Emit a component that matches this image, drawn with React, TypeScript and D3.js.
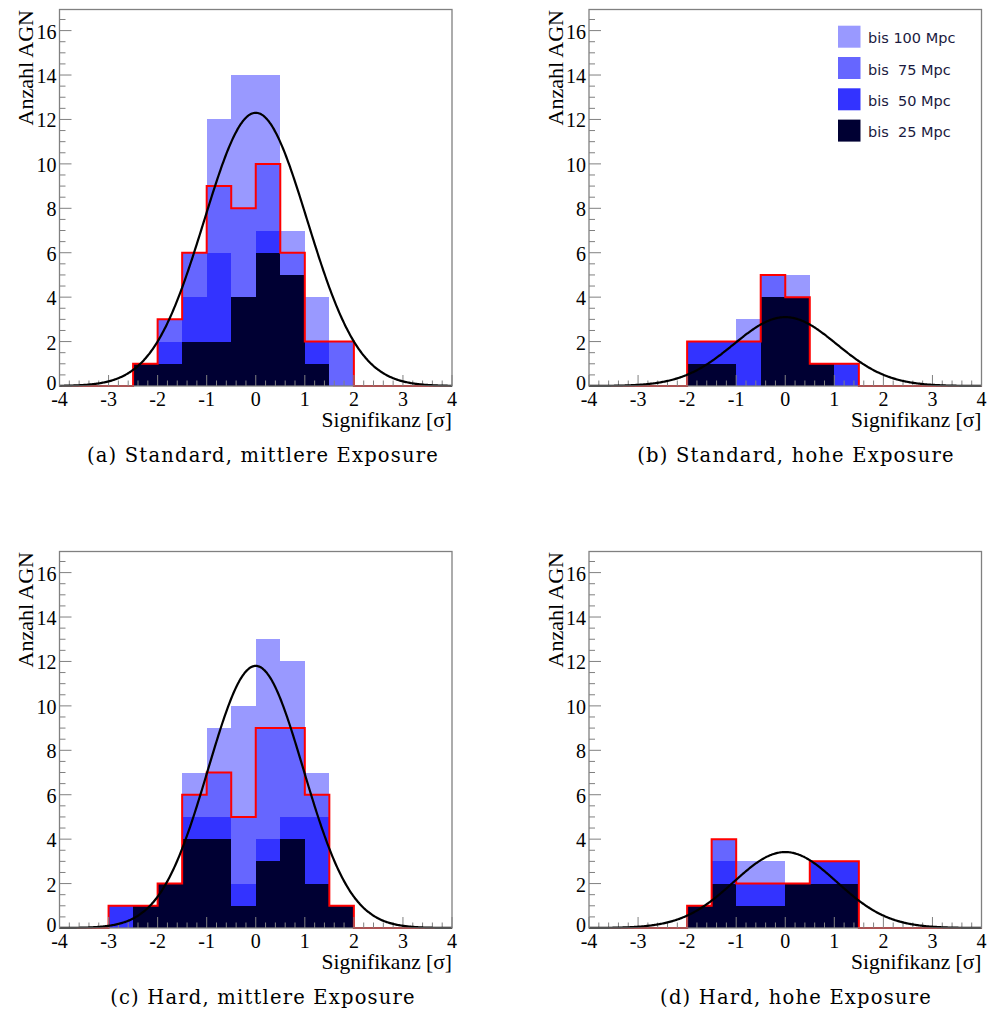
import React from "react";
import * as d3 from "d3";

// ---------- data ----------
const binWidth = 0.5;
const xDomain = [-4, 4];
const yMax = 16.95;
const xTickValues = [-4, -3, -2, -1, 0, 1, 2, 3, 4];
const yTickValues = [0, 2, 4, 6, 8, 10, 12, 14, 16];

// panel (a) Standard, mittlere Exposure — bins start at -2.5
const aStart = -2.5;
const a100 = [1, 3, 6, 12, 14, 14, 7, 4, 2];
const a75 = [1, 3, 6, 9, 8, 10, 6, 2, 2];
const a50 = [1, 2, 4, 6, 4, 7, 5, 2, 0];
const a25 = [1, 1, 2, 2, 4, 6, 5, 1, 0];

// panel (b) Standard, hohe Exposure — bins start at -2
const bStart = -2;
const b100 = [2, 2, 3, 5, 5, 1, 1];
const b75 = [2, 2, 2, 5, 4, 1, 1];
const b50 = [2, 2, 2, 4, 4, 1, 1];
const b25 = [1, 1, 0, 4, 4, 1, 0];

// panel (c) Hard, mittlere Exposure — bins start at -3
const cStart = -3;
const c100 = [1, 1, 2, 7, 9, 10, 13, 12, 7, 1];
const c75 = [1, 1, 2, 6, 7, 5, 9, 9, 6, 1];
const c50 = [1, 1, 2, 5, 5, 2, 4, 5, 5, 1];
const c25 = [0, 1, 2, 4, 4, 1, 3, 4, 2, 1];

// panel (d) Hard, hohe Exposure — bins start at -2
const dStart = -2;
const d100 = [1, 4, 3, 3, 2, 3, 3];
const d75 = [1, 4, 2, 2, 2, 3, 3];
const d50 = [1, 3, 2, 2, 2, 3, 3];
const d25 = [1, 2, 1, 1, 2, 2, 2];

// gaussian fits (amplitude, mean, sigma)
const gaussAmp = [12.3, 3.1, 11.8, 3.42];
const gaussMean = [0, 0, 0, 0];
const gaussSigma = [1.05, 1.05, 0.97, 1.05];

const captions = [
  "(a) Standard, mittlere Exposure",
  "(b) Standard, hohe Exposure",
  "(c) Hard, mittlere Exposure",
  "(d) Hard, hohe Exposure",
];
const legendLabels = ["bis 100 Mpc", "bis  75 Mpc", "bis  50 Mpc", "bis  25 Mpc"];
const xTitle = "Signifikanz [σ]";
const yTitle = "Anzahl AGN";

// ---------- styles / layout ----------
const fillColors = ["#9999ff", "#6666ff", "#3333ff", "#000033"];
const frameColor = "#808080";
const serif = "'Liberation Serif', 'Times New Roman', serif";
const capFont = "'DejaVu Serif', serif";
const W = 392.5;
const H = 376.5;
const panelLeft = [59.5, 589, 59.5, 589];
const panelTop = [9.5, 9.5, 551.5, 551.5];
const captionX = [263, 796, 263, 796];
const captionY = [462, 462, 1004, 1004];

const panels = [
  { start: aStart, series: [a100, a75, a50, a25] },
  { start: bStart, series: [b100, b75, b50, b25] },
  { start: cStart, series: [c100, c75, c50, c25] },
  { start: dStart, series: [d100, d75, d50, d25] },
];

function Panel({ idx }: { idx: number }) {
  const p = panels[idx];
  const x = d3.scaleLinear().domain(xDomain).range([0, W]);
  const y = d3.scaleLinear().domain([0, yMax]).range([H, 0]);
  const bw = x(binWidth) - x(0);

  // red outline of the 75 Mpc histogram over the full range
  const s75 = p.series[1];
  const pts: [number, number][] = [[xDomain[0], 0], [p.start, 0]];
  s75.forEach((c, i) => {
    const x0 = p.start + i * binWidth;
    pts.push([x0, c], [x0 + binWidth, c]);
  });
  pts.push([p.start + s75.length * binWidth, 0], [xDomain[1], 0]);
  const stepLine = d3
    .line<[number, number]>()
    .x((d) => x(d[0]))
    .y((d) => y(d[1]));

  const gx = d3.range(xDomain[0], xDomain[1] + 0.0001, 0.02);
  const gLine = d3
    .line<number>()
    .x((d) => x(d))
    .y((d) =>
      y(gaussAmp[idx] * Math.exp(-((d - gaussMean[idx]) ** 2) / (2 * gaussSigma[idx] ** 2)))
    )
    .curve(d3.curveBasis);

  const xMinor = d3.range(-4, 4.0001, 0.2);
  const yMinor = d3.range(0, yMax, 0.5);

  return (
    <g transform={`translate(${panelLeft[idx]},${panelTop[idx]})`}>
      {p.series.map((ser, si) =>
        ser.map((c, i) =>
          c > 0 ? (
            <rect
              key={`${si}-${i}`}
              x={x(p.start + i * binWidth)}
              y={y(c)}
              width={bw}
              height={y(0) - y(c)}
              fill={fillColors[si]}
              shapeRendering="crispEdges"
            />
          ) : null
        )
      )}
      <path d={stepLine(pts) || ""} fill="none" stroke="#ff0000" strokeWidth={2} />
      {/* ticks */}
      {xMinor.map((v, i) => {
        const major = Math.abs(v - Math.round(v)) < 1e-6;
        return (
          <line
            key={`xt${i}`}
            x1={x(v)}
            x2={x(v)}
            y1={H}
            y2={H - (major ? 11 : 5.5)}
            stroke={frameColor}
            strokeWidth={1}
          />
        );
      })}
      {yMinor.map((v, i) => {
        const major = Math.abs(v / 2 - Math.round(v / 2)) < 1e-6;
        return (
          <line
            key={`yt${i}`}
            x1={0}
            x2={major ? 12 : 6}
            y1={y(v)}
            y2={y(v)}
            stroke={frameColor}
            strokeWidth={1}
          />
        );
      })}
      <path d={gLine(gx) || ""} fill="none" stroke="#000000" strokeWidth={2.2} />
      <rect x={0} y={0} width={W} height={H} fill="none" stroke={frameColor} strokeWidth={1.3} />
      {/* tick labels */}
      {xTickValues.map((v) => (
        <text
          key={`xl${v}`}
          x={x(v)}
          y={H + 20}
          textAnchor="middle"
          fontFamily={serif}
          fontSize={20}
          fill="#000"
        >
          {v}
        </text>
      ))}
      {yTickValues.map((v) => (
        <text
          key={`yl${v}`}
          x={-3}
          y={y(v) + (v === 0 ? 3.5 : 8)}
          textAnchor="end"
          fontFamily={serif}
          fontSize={20}
          fill="#000"
        >
          {v}
        </text>
      ))}
      <text
        x={W}
        y={H + 41}
        textAnchor="end"
        fontFamily={serif}
        fontSize={21.5}
        fill="#000"
      >
        {xTitle}
      </text>
      <text
        transform={`translate(${-26.5},0.5) rotate(-90)`}
        textAnchor="end"
        fontFamily={serif}
        fontSize={22}
        fill="#000"
      >
        {yTitle}
      </text>
    </g>
  );
}

function Legend() {
  const left = panelLeft[1] + 249;
  const top = 25.7;
  const step = 31.3;
  return (
    <g>
      {legendLabels.map((lab, i) => (
        <g key={lab}>
          <rect x={left} y={top + i * step} width={22.5} height={22} fill={fillColors[i]} />
          <text
            x={left + 30}
            y={top + i * step + 17.5}
            fontFamily="'DejaVu Sans', sans-serif"
            fontSize={14.5}
            fill="#1a1a40"
            style={{ whiteSpace: "pre" }}
          >
            {lab}
          </text>
        </g>
      ))}
    </g>
  );
}

export default function App() {
  return (
    <svg
      width={987}
      height={1018}
      style={{ position: "absolute", left: 0, top: 0, background: "#fff" }}
    >
      <rect x={0} y={0} width={987} height={1018} fill="#fff" />
      {[0, 1, 2, 3].map((i) => (
        <Panel key={i} idx={i} />
      ))}
      <Legend />
      {captions.map((c, i) => (
        <text
          key={c}
          x={captionX[i]}
          y={captionY[i]}
          textAnchor="middle"
          fontFamily={capFont}
          fontSize={19.5}
          letterSpacing={1.2}
          fill="#000"
        >
          {c}
        </text>
      ))}
    </svg>
  );
}
